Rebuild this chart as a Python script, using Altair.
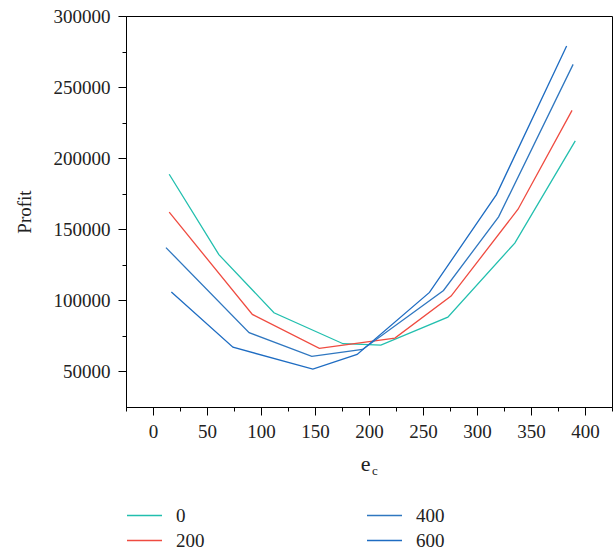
import altair as alt
import pandas as pd

series_names = ["0", "200", "400", "600"]
x_0 = [15, 61, 112, 176, 211, 273, 335, 391]
y_0 = [188700, 132200, 91300, 69500, 68500, 88200, 140300, 212200]
x_200 = [15, 92, 154, 224, 276, 338, 388]
y_200 = [162000, 90100, 66200, 73500, 103000, 164100, 233600]
x_400 = [12, 89, 147, 194, 269, 320, 389]
y_400 = [137100, 77250, 60560, 65500, 107000, 158700, 266000]
x_600 = [17, 74, 148, 189, 256, 318, 383]
y_600 = [105850, 67100, 51600, 62000, 105600, 174400, 278900]

x_major = [0, 50, 100, 150, 200, 250, 300, 350, 400]
x_minor = [-25, 25, 75, 125, 175, 225, 275, 325, 375, 425]
y_major = [50000, 100000, 150000, 200000, 250000, 300000]
y_minor = [75000, 125000, 175000, 225000, 275000]

colors = {"0": "#22bfae", "200": "#ef4b40", "400": "#2f77c0", "600": "#1e6cc2"}

rows = []
for name, xs, ys in [("0", x_0, y_0), ("200", x_200, y_200), ("400", x_400, y_400), ("600", x_600, y_600)]:
    for i, (a, b) in enumerate(zip(xs, ys)):
        rows.append({"series": name, "ec": a, "profit": b, "order": i})
df = pd.DataFrame(rows)

FONT = "Liberation Serif"
xscale = alt.Scale(domain=[-25, 425], nice=False, zero=False)
yscale = alt.Scale(domain=[25000, 300000], nice=False, zero=False)

color = alt.Color(
    "series:N",
    scale=alt.Scale(domain=series_names, range=[colors[k] for k in series_names]),
    legend=alt.Legend(
        title=None, orient="none", legendX=0, legendY=487, columns=2,
        symbolType="stroke", symbolSize=1225, symbolStrokeWidth=1.5,
        labelFont=FONT, labelFontSize=19, labelColor="#222", labelOffset=13,
        clipHeight=25, rowPadding=0, columnPadding=161,
    ),
)

main = alt.Chart(df).mark_line(strokeWidth=1.3).encode(
    x=alt.X("ec:Q", scale=xscale, axis=alt.Axis(
        values=x_major, orient="bottom", title="e", titleX=239, titleFontSize=22,
        titlePadding=12, tickSize=8, labelPadding=7, grid=False)),
    y=alt.Y("profit:Q", scale=yscale, axis=alt.Axis(
        values=y_major, orient="left", title="Profit", format="d", titleFontSize=19,
        titlePadding=19, tickSize=8, labelPadding=8, grid=False)),
    color=color,
    order="order:Q",
)

minor = alt.Chart(df).mark_line(opacity=0).encode(
    x=alt.X("ec:Q", scale=xscale, axis=alt.Axis(
        values=x_minor, orient="bottom", title="", labels=False, domain=False,
        tickSize=4, grid=False)),
    y=alt.Y("profit:Q", scale=yscale, axis=alt.Axis(
        values=y_minor, orient="left", title="", labels=False, domain=False,
        tickSize=4, grid=False)),
    detail="series:N",
    order="order:Q",
)

sub = alt.Chart(pd.DataFrame({"t": ["c"]})).mark_text(
    text="c", font=FONT, fontSize=13, align="left", baseline="alphabetic", color="#222"
).encode(x=alt.value(246), y=alt.value(459))

chart = alt.layer(main, minor, sub).resolve_axis(x="independent", y="independent").properties(
    width=486, height=391,
    padding={"left": 126, "top": 16, "right": 4, "bottom": 144},
    autosize="none",
).configure_view(stroke="black", strokeWidth=1).configure_axis(
    domainColor="black", tickColor="black", domainWidth=1, tickWidth=1,
    labelFont=FONT, labelFontSize=19, labelColor="#222",
    titleFont=FONT, titleFontWeight="normal", titleColor="#222",
)

chart.save("out.html", embed_options={"renderer": "svg", "actions": False})
